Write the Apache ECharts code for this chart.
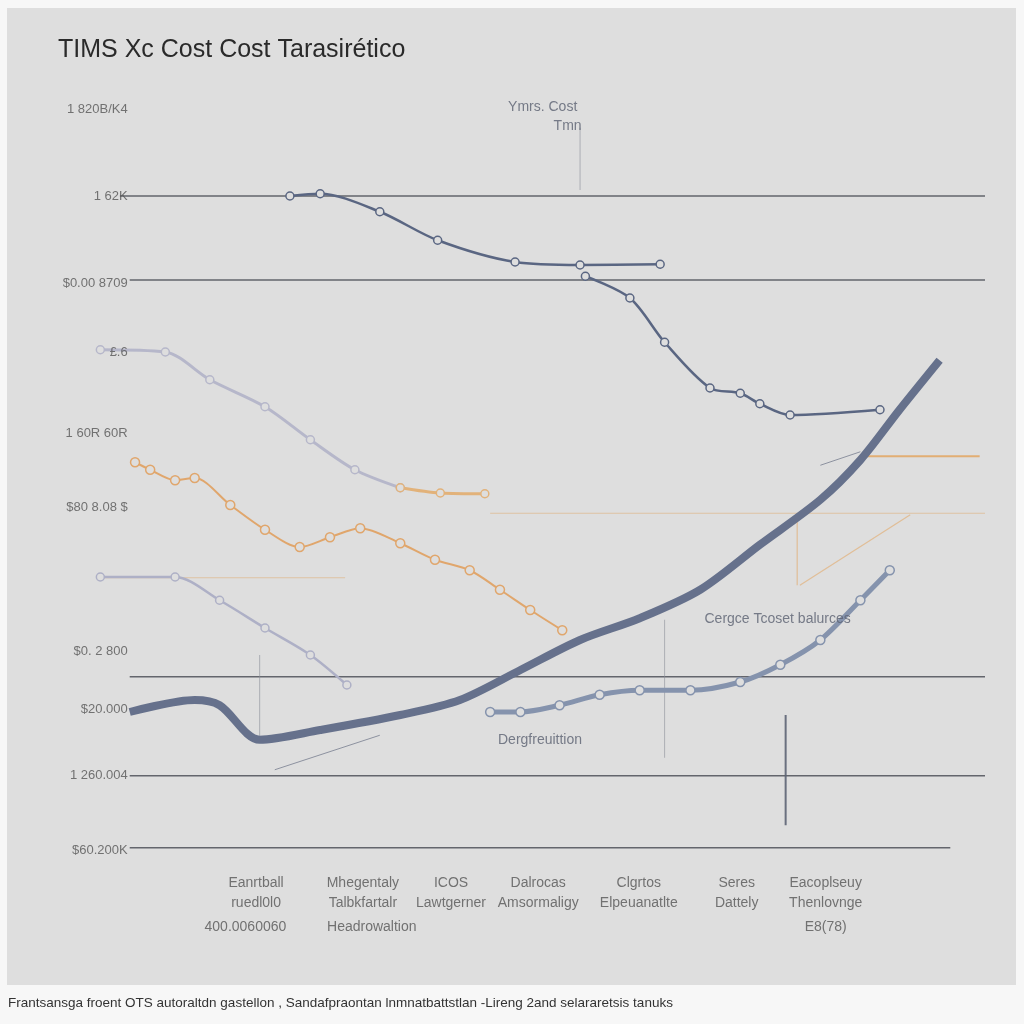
<!DOCTYPE html>
<html><head><meta charset="utf-8">
<script src="https://cdn.jsdelivr.net/npm/echarts@6/dist/echarts.min.js"></script>
<style>html,body{margin:0;padding:0;background:#f7f7f7}#c{width:1024px;height:1024px}</style>
</head><body><div id="c"></div>
<script>
// ---- data (x: 0..100 timeline units, y: 0..100 cost index) ----
const titleText = 'TIMS Xc Cost Cost Tarasirético';
const footerText = 'Frantsansga froent OTS autoraltdn gastellon , Sandafpraontan lnmnatbattstlan -Lireng 2and selararetsis tanuks';

const upperCostA = [[21.9,87.2],[25.3,87.5],[32.0,85.1],[38.5,81.3],[47.2,78.4],[54.5,78.0],[63.5,78.1]];
const upperCostB = [[55.1,76.5],[60.1,73.6],[64.0,67.7],[69.1,61.6],[72.5,60.9],[74.7,59.5],[78.1,58.0],[88.2,58.7]];
const lavenderCost = [[0.6,66.7],[7.9,66.4],[12.9,62.7],[19.1,59.1],[24.2,54.7],[29.2,50.7],[34.3,48.3]];
const lavenderTail = [[34.3,48.3],[38.8,47.6],[43.8,47.5]];
const orangeCost = [[4.5,51.7],[6.2,50.7],[9.0,49.3],[11.2,49.6],[15.2,46.0],[19.1,42.7],[23.0,40.4],[26.4,41.7],[29.8,42.9],[34.3,40.9],[38.2,38.7],[42.1,37.3],[45.5,34.7],[48.9,32.0],[52.5,29.3]];
const lavenderCost2 = [[0.6,36.4],[9.0,36.4],[14.0,33.3],[19.1,29.6],[24.2,26.0],[28.3,22.0]];
const risingCost = [[3.9,18.4],[11.2,20.0],[14.0,19.3],[18.5,14.7],[25.3,16.0],[34.3,18.0],[41.0,20.0],[47.8,24.0],[54.5,28.0],[61.2,30.9],[68.0,34.7],[74.7,40.7],[81.5,46.7],[86.0,52.0],[90.4,58.7],[94.9,65.3]];
const risingCost2 = [[44.4,18.4],[47.8,18.4],[52.2,19.3],[56.7,20.7],[61.2,21.3],[66.9,21.3],[72.5,22.4],[77.0,24.7],[81.5,28.0],[86.0,33.3],[89.3,37.3]];

const refLevels = [87.2, 76.0, 23.1, 9.9, 0.3];
const refStarts = [2.8, 3.9, 3.9, 3.9, 3.9];
const refEnds   = [100, 100, 100, 100, 96.1];
const orangeLevels = [52.5, 44.9, 36.3];
const orangeStarts = [86.0, 44.4, 0.6];
const orangeEnds   = [99.4, 100, 28.1];

const thinSegStart = [[81.5,51.3],[20.2,10.7]];
const thinSegEnd   = [[86.0,53.1],[32.0,15.3]];
const orangeSegStart = [[79.2,35.3],[78.9,44.7]];
const orangeSegEnd   = [[91.6,44.7],[78.9,35.3]];

const yTickValues = [98.7, 87.2, 75.6, 66.4, 55.5, 45.7, 26.5, 18.7, 9.9, -0.1];
const yTickLabels = ['1 820B/K4', '1 62K', '$0.00 8709', '£.6', '1 60R 60R', '$80 8.08 $', '$0. 2 800', '$20.000', '1 260.004', '$60.200K'];

const catPositions = [18.1, 30.1, 40.0, 49.8, 61.1, 72.1, 82.1];
const catLabels = ['Eanrtball\nruedl0l0', 'Mhegentaly\nTalbkfartalr', 'ICOS\nLawtgerner', 'Dalrocas\nAmsormaligy', 'Clgrtos\nElpeuanatlte', 'Seres\nDattely', 'Eacoplseuy\nThenlovnge'];
const catSubPositions = [16.9, 31.1, 82.1];
const catSubLabels = ['400.0060060', 'Headrowaltion', 'E8(78)'];

const noteX = [50.3, 53.1, 76.7, 50.0];
const noteY = [99.0, 96.5, 30.8, 14.7];
const noteText = ['Ymrs. Cost', 'Tmn', 'Cergce Tcoset balurces', 'Dergfreuittion'];

const vLineX = [77.6, 54.5, 64.0, 18.5];
const vLineFrom = [18.0, 88.0, 30.7, 15.0];
const vLineTo = [3.3, 96.3, 12.3, 26.0];

// ---- build ----
const font = '"Liberation Sans", Arial, sans-serif';
function lineS(data, color, width, symSize, z, opacity) {
  return {type:'line', data, smooth:0.3, z:z||3, clip:false,
    lineStyle:{color, width, opacity: opacity==null?1:opacity},
    itemStyle:{color:'#dedede', borderColor:color, borderWidth:1.5},
    symbol:'circle', symbolSize:symSize, showSymbol: symSize>0};
}
function segS(a, b, color, width, opacity, z) {
  return {type:'line', data:[a,b], symbol:'none', clip:false, z:z||1,
    lineStyle:{color, width, opacity}};
}
const series = [];
refLevels.forEach((v,i)=>series.push(segS([refStarts[i],v],[refEnds[i],v],'#55585f',1.3,0.9,1)));
orangeLevels.forEach((v,i)=>series.push(segS([orangeStarts[i],v],[orangeEnds[i],v],'#e2a868', i===0?2:1.2, i===0?0.9:0.5,1)));
vLineX.forEach((x,i)=>series.push(segS([x,vLineFrom[i]],[x,vLineTo[i]], i===0?'#5d6474':'#8a8e98', i===0?2:1, i===0?0.9:0.6,1)));
thinSegStart.forEach((p,i)=>series.push(segS(p,thinSegEnd[i],'#6a7085',1,0.7,1)));
orangeSegStart.forEach((p,i)=>series.push(segS(p,orangeSegEnd[i],'#e2a868',1.2,0.6,1)));

series.push(lineS(upperCostA,'#5a6682',2.5,8,4));
series.push(lineS(upperCostB,'#5a6682',2.5,8,4));
series.push(lineS(lavenderCost,'#b6b7ca',3,8,3));
series.push(lineS(lavenderTail,'#e2b27a',3,8,3));
series.push(lineS(orangeCost,'#e0a66c',2,9,3));
series.push(lineS(lavenderCost2,'#aeb0c6',2.5,8,3));
series.push(lineS(risingCost,'#66718c',8,0,5));
series.push(lineS(risingCost2,'#8593ad',5,9,4));

// y tick labels
series.push({type:'scatter', symbolSize:0, clip:false, z:6,
  data: yTickValues.map((v,i)=>({value:[3.9,v], label:{formatter:yTickLabels[i]}})),
  label:{show:true, position:'left', distance:2, color:'#555', fontSize:13, fontFamily:font}});
// category labels
series.push({type:'scatter', symbolSize:0, clip:false, z:6,
  data: catPositions.map((x,i)=>({value:[x,-3.1], label:{formatter:catLabels[i]}})),
  label:{show:true, position:'bottom', distance:0, align:'center', verticalAlign:'top', color:'#555', fontSize:14, lineHeight:20, fontFamily:font}});
series.push({type:'scatter', symbolSize:0, clip:false, z:6,
  data: catSubPositions.map((x,i)=>({value:[x,-9.4], label:{formatter:catSubLabels[i]}})),
  label:{show:true, position:'bottom', distance:0, align:'center', verticalAlign:'top', color:'#555', fontSize:14, fontFamily:font}});
// annotations
series.push({type:'scatter', symbolSize:0, clip:false, z:6,
  data: noteX.map((x,i)=>({value:[x,noteY[i]], label:{formatter:noteText[i]}})),
  label:{show:true, position:'inside', color:'#5a6070', fontSize:14, fontFamily:font}});

const chart = echarts.init(document.getElementById('c'), null, {renderer:'canvas'});
chart.setOption({
  backgroundColor:'#f7f7f7',
  animation:false,
  graphic:[
    {type:'rect', z:-10, shape:{x:7,y:8,width:1009,height:977}, style:{fill:'#dedede'}},
    {type:'text', left:58, top:38, style:{text:titleText, fill:'#2a2a2a', font:'25px '+font}},
    {type:'text', left:8, top:996, style:{text:footerText, fill:'#333', font:'13.5px '+font}}
  ],
  grid:{left:95, right:39, top:100, bottom:174},
  xAxis:{type:'value', min:0, max:100, show:false},
  yAxis:{type:'value', min:0, max:100, show:false},
  series
});
</script></body></html>
